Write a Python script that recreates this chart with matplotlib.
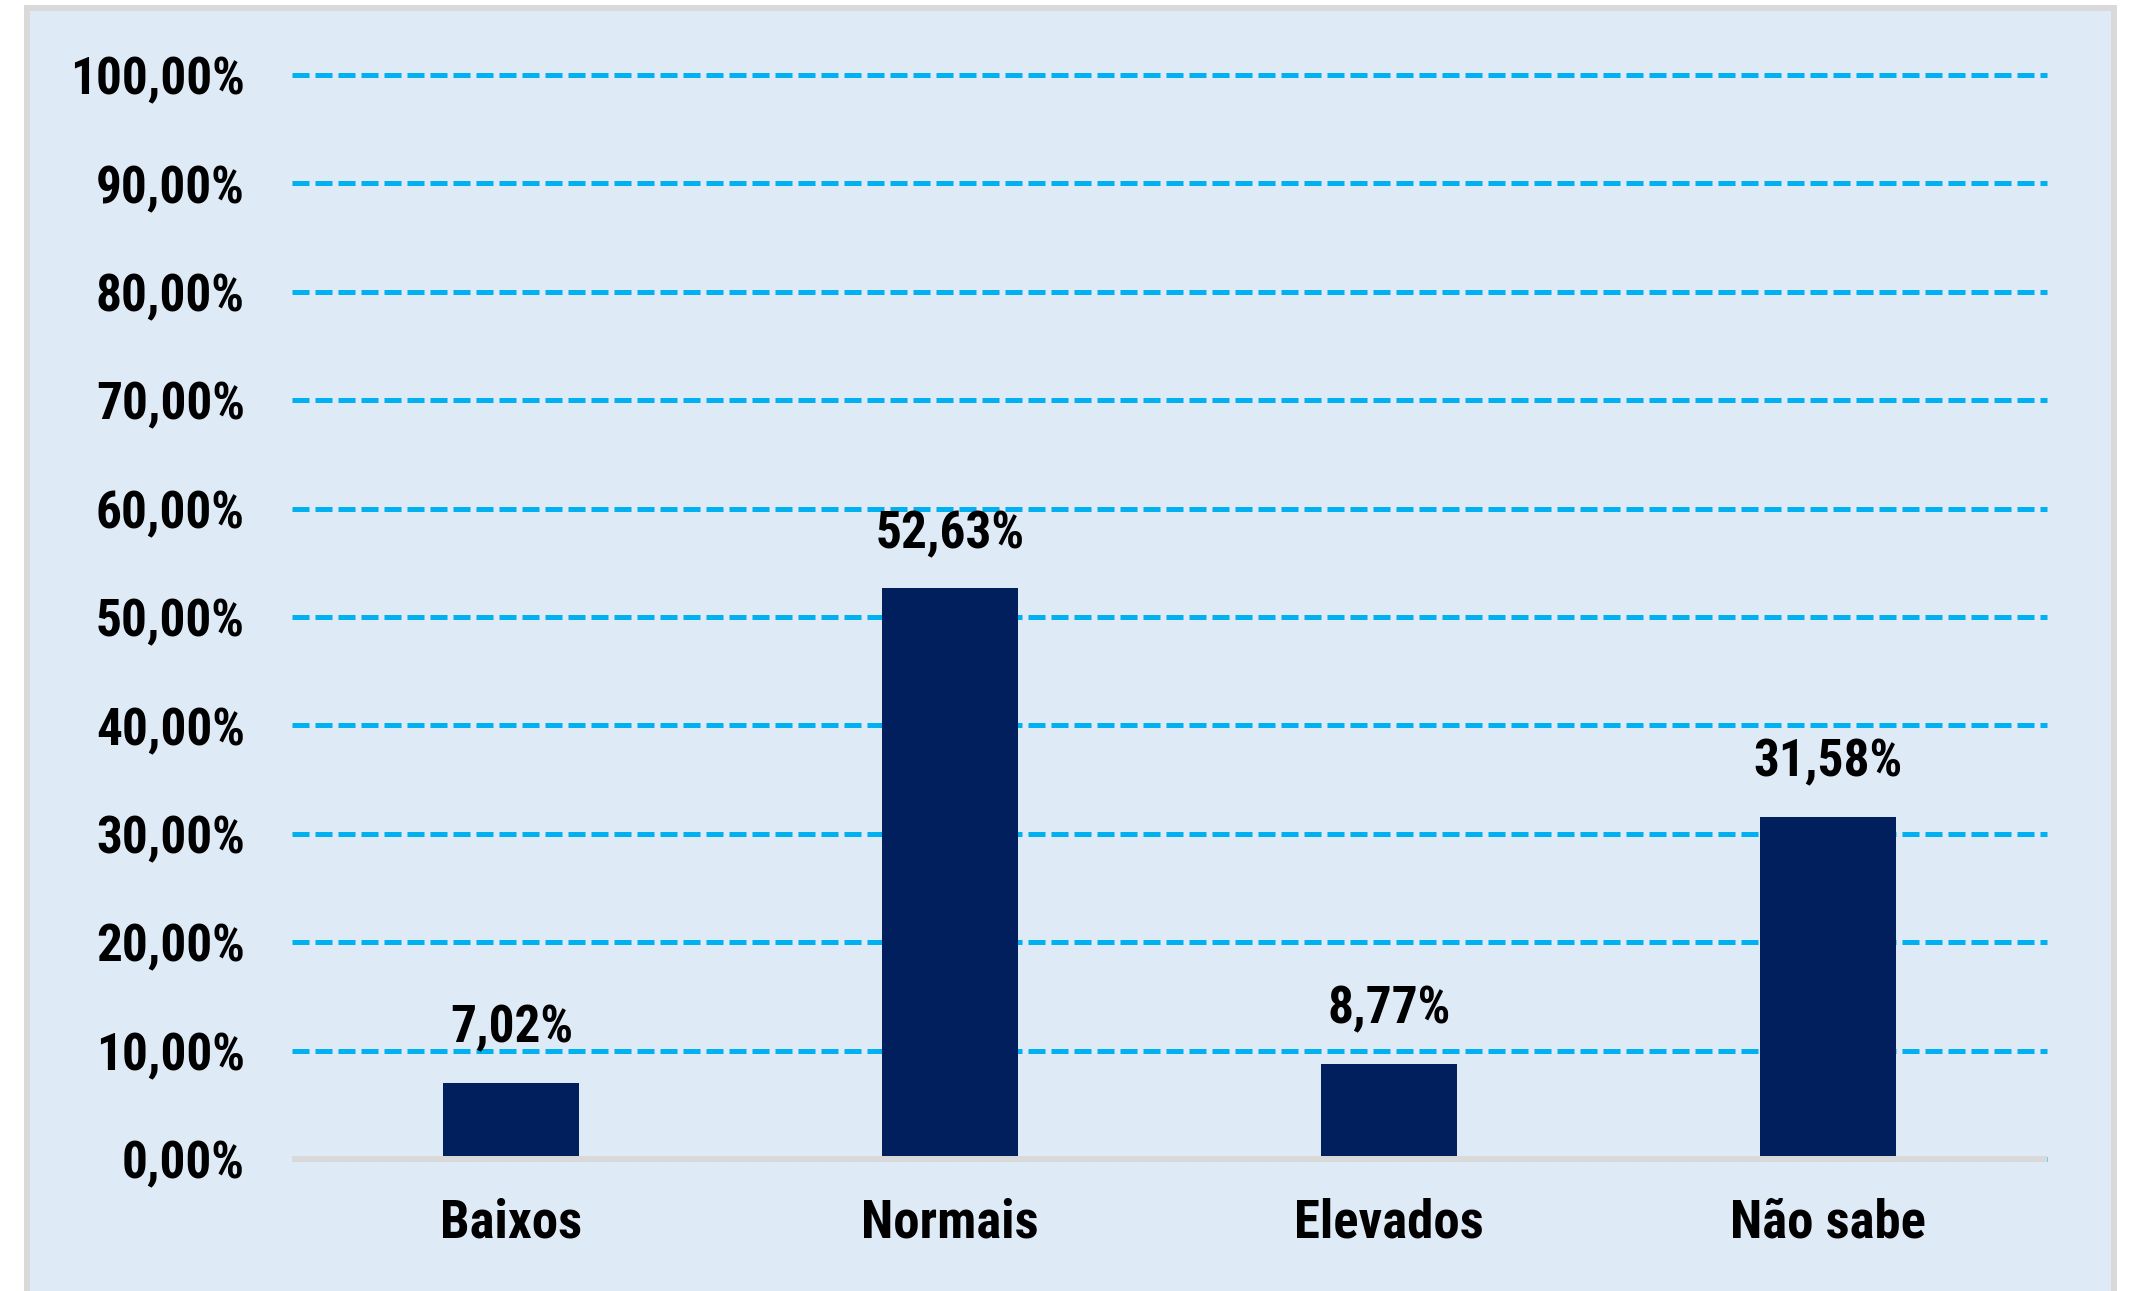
import matplotlib.pyplot as plt
from matplotlib.patches import Rectangle
from matplotlib.ticker import FuncFormatter, MultipleLocator

categories = ["Baixos", "Normais", "Elevados", "Não sabe"]
values = [7.02, 52.63, 8.77, 31.58]

plt.rcParams["font.family"] = ["Roboto Condensed", "Liberation Sans", "DejaVu Sans"]
plt.rcParams["font.weight"] = "bold"

W, H = 2132, 1291
fig = plt.figure(figsize=(W / 100, H / 100), dpi=100)
fig.patch.set_facecolor("white")

# light blue panel with grey frame, kept behind the axes
panel = Rectangle((27 / W, -0.02), (2114 - 27) / W, (H - 8) / H + 0.02,
                  transform=fig.transFigure, facecolor="#DEEAF6",
                  edgecolor="#D9D9D9", linewidth=4.3)
panel.set_zorder(-5)
fig.add_artist(panel)

ax = fig.add_axes([292 / W, 132 / H, (2047 - 292) / W, (1216 - 132) / H])
ax.set_zorder(1)
ax.set_facecolor("none")

ax.bar(range(len(categories)), values, width=0.31, color="#001F5C", zorder=3)
for i, v in enumerate(values):
    lbl = f"{v:.2f}%".replace(".", ",")
    ax.annotate(lbl, (i, v), xytext=(0, 39), textcoords="offset points",
                ha="center", va="center", fontsize=37, fontweight="bold")

ax.set_xlim(-0.5, len(categories) - 0.5)
ax.set_ylim(0, 100)
ax.yaxis.set_major_locator(MultipleLocator(10))
ax.yaxis.set_major_formatter(FuncFormatter(lambda y, _: f"{y:.2f}%".replace(".", ",")))
ax.set_xticks(range(len(categories)))
ax.set_xticklabels(categories)

ax.yaxis.grid(True, color="#00B0F0", linewidth=3.6, linestyle=(0, (3.4, 1.2)),
              dash_capstyle="butt", zorder=1)
for gl in ax.get_ygridlines():
    gl.set_clip_on(False)
ax.xaxis.grid(False)
for s in ["top", "right", "left"]:
    ax.spines[s].set_visible(False)
ax.spines["bottom"].set_color("#D9D9D9")
ax.spines["bottom"].set_linewidth(4.3)
ax.spines["bottom"].set_capstyle("butt")
ax.spines["bottom"].set_zorder(4)

ax.tick_params(axis="y", length=0, labelsize=37, pad=34)
ax.tick_params(axis="x", length=0, labelsize=38, pad=28)
for t in ax.get_xticklabels() + ax.get_yticklabels():
    t.set_fontweight("bold")

fig.savefig("out.png", dpi=100)
